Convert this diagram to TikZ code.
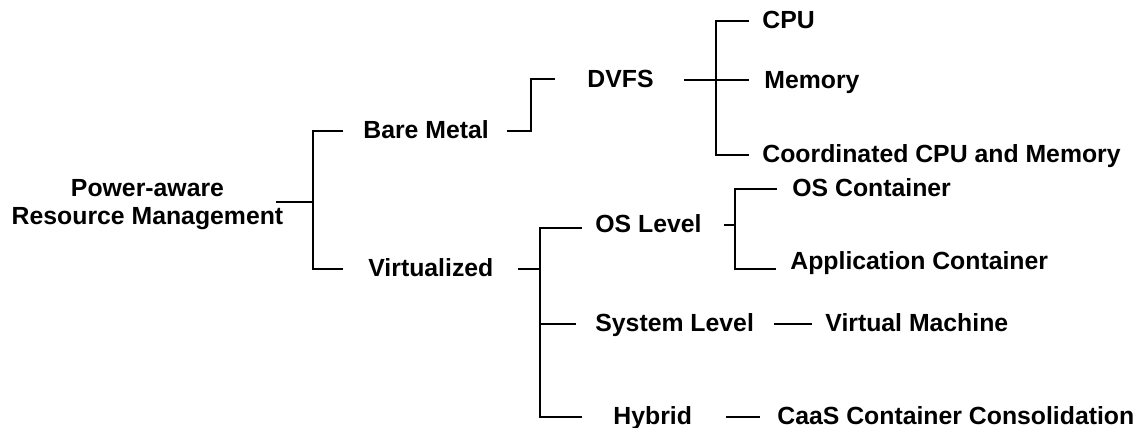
\documentclass[tikz,border=0pt]{standalone}
\usepackage{fontspec}
\setmainfont{Liberation Sans}
\usetikzlibrary{calc}

\begin{document}
\begin{tikzpicture}[x=0.5pt,y=-0.5pt,
  lbl/.style={font=\fontsize{12.4}{14}\selectfont\bfseries, inner sep=0pt,
              anchor=west, text height=0.716em, text depth=0pt},
  branch/.style={line width=1pt, draw=black}]
\useasboundingbox (0,0) rectangle (1140,428);

% root
\node[font=\fontsize{12.4}{14}\selectfont\bfseries, inner sep=0pt, align=center]
  (root) at (147.5,205) {Power-aware\\Resource Management};

% first level
\node[lbl] (bare) at (363,131) {Bare Metal};
\node[lbl] (virt) at (368,269) {Virtualized};

% bare metal subtree
\node[lbl] (dvfs) at (587,80) {DVFS};
\node[lbl] (cpu)  at (762,21) {CPU};
\node[lbl] (mem)  at (764,81) {Memory};
\node[lbl] (coord) at (762,155) {Coordinated CPU and Memory};

% virtualized subtree
\node[lbl] (oslevel)  at (595,225) {OS Level};
\node[lbl] (syslevel) at (595,324) {System Level};
\node[lbl] (hybrid)   at (613,417) {Hybrid};
\node[lbl] (oscont)   at (792,189) {OS Container};
\node[lbl] (appcont)  at (790,262) {Application Container};
\node[lbl] (vm)       at (825,324) {Virtual Machine};
\node[lbl] (caas)     at (777,417) {CaaS Container Consolidation};

% junctions
\coordinate (rj) at (313,202);
\coordinate (dj) at (716,80);
\coordinate (vj) at (540,269);
\coordinate (oj) at (735,225);

% root branches
\draw[branch] ($(root.east)+(-8,-3)$) -- (rj);
\draw[branch] ($(bare.west)+(-20,0)$) -| (rj) |- ($(virt.west)+(-25,0)$);

% bare metal -> DVFS
\draw[branch] ($(bare.east)+(18,0)$) -| ($(dvfs.west)+(-56,-1)$) -- ($(dvfs.west)+(-32,-1)$);

% DVFS branches
\draw[branch] ($(dvfs.east)+(30,0)$) -- (dj);
\draw[branch] ($(cpu.west)+(-13,0)$) -| (dj) |- ($(coord.west)+(-13,0)$);
\draw[branch] (dj) -- ($(mem.west)+(-15,-1)$);

% virtualized branches
\draw[branch] ($(virt.east)+(24,0)$) -- (vj);
\draw[branch] ($(oslevel.west)+(-13,3)$) -| (vj) |- ($(hybrid.west)+(-31,0)$);
\draw[branch] (vj |- syslevel.west) -- ($(syslevel.west)+(-19,0)$);

% OS level branches
\draw[branch] ($(oslevel.east)+(22,0)$) -- (oj);
\draw[branch] ($(oscont.west)+(-15,0)$) -| (oj) |- ($(appcont.west)+(-14,7)$);

% single-child branches
\draw[branch] ($(syslevel.east)+(20,0)$) -- ($(vm.west)+(-13,0)$);
\draw[branch] ($(hybrid.east)+(34,0)$) -- ($(caas.west)+(-17,0)$);
\end{tikzpicture}
\end{document}
